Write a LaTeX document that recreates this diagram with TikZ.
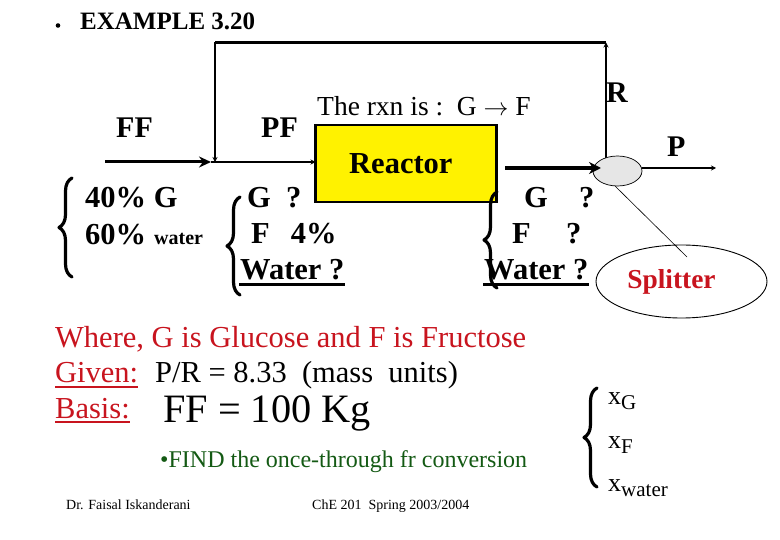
\documentclass[tikz,border=0pt]{standalone}
\usepackage{fontspec}
\setmainfont{Liberation Serif}
\usetikzlibrary{arrows.meta,decorations.pathreplacing,shapes.geometric}
\definecolor{redtxt}{RGB}{200,20,30}
\definecolor{greentxt}{RGB}{20,90,20}
\definecolor{splitgray}{RGB}{230,230,230}
\newcommand{\subtxt}[1]{\raisebox{-5.5pt}{\fontsize{21}{21}\selectfont #1}}
\tikzset{
  x=1pt,y=-1pt,
  lbl/.style={inner sep=0pt,anchor=base west,text=black,font=\bfseries\fontsize{#1}{#1}\selectfont},
  red lbl/.style={inner sep=0pt,anchor=base west,text=redtxt,font=\fontsize{30.5}{30.5}\selectfont},
  plain lbl/.style={inner sep=0pt,anchor=base west,text=black,font=\fontsize{#1}{#1}\selectfont},
  curly/.style={draw=black,line width=3.2pt,line cap=round,line join=round,decorate,decoration={brace,amplitude=13pt}},
  feed/.style={line width=3pt,-{Stealth[length=12pt,width=11pt]}},
  thinflow/.style={line width=1.4pt,-{Stealth[length=5pt,width=5pt]}},
  rule/.style={line width=2.6pt},
  red rule/.style={draw=redtxt,line width=2pt},
}
\begin{document}
\begin{tikzpicture}
\useasboundingbox (0,0) rectangle (780,540);
% title
\fill (58,25.5) circle (2.3);
\node[lbl=25] (title) at (80,29.5) {EXAMPLE 3.20};
% reactor
\node[draw=black,line width=2.4pt,fill=yellow,outer sep=0pt,minimum width=181pt,minimum height=77pt,inner sep=0pt,anchor=north west] (reactor) at (315.5,125) {};
\node[lbl=30.5] (reactorlabel) at (349,174) {Reactor};
\node[plain lbl=27.5] (rxn) at (317,116) {The rxn is :\ \ G $\rightarrow$ F};
% coordinates
\coordinate (ffstart) at (105,162);
\coordinate (junction) at (211,162);
\coordinate (tl) at (215,42.5);
\coordinate (tr) at (606,42.5);
\coordinate (tee) at (215,162);
\coordinate (rout) at (505,168);
\coordinate (rin) at (601,168);
\coordinate (pstart) at (642,168);
\coordinate (pend) at (716,168);
\coordinate (mixtop) at (606,158);
\coordinate (leadend) at (687,257);
\coordinate (leadstart) at (615,186);
% splitter
\draw[line width=2.2pt,-{Stealth[length=5pt,width=5pt]}] (mixtop) -- (tr);
\node[draw=black,line width=.7pt,fill=splitgray,minimum width=49pt,minimum height=30pt,inner sep=0pt,ellipse] (mix) at (617.5,171) {};
\node[draw=black,line width=.9pt,minimum width=171pt,minimum height=73pt,inner sep=0pt,ellipse] (splitter) at (681.5,281.5) {};
\node[inner sep=0pt,anchor=base,text=redtxt,font=\bfseries\fontsize{27.4}{27.4}\selectfont] (splitlabel) at (671.5,289) {Splitter};
% flows
\draw[feed] (ffstart) -- (junction);
\draw[thinflow] (junction) -- (reactor.west |- junction);
\draw[line width=3pt] (tr) -- (tl);
\draw[thinflow] (tl) -- (tee);
\draw[line width=4pt,-{Stealth[length=12pt,width=12pt]}] (rout) -- (rin);
\draw[line width=1.2pt,-{Stealth[length=5pt,width=5pt]}] (pstart) -- (pend);
\draw[line width=.6pt] (leadstart) -- (leadend);
% stream labels
\node[lbl=30] (ff) at (116,138) {FF};
\node[lbl=30] (pf) at (261,138) {PF};
\node[lbl=30] (r) at (606,103) {R};
\node[lbl=30] (p) at (667,157) {P};
% feed composition
\node[lbl=30.5] (a1) at (85,208) {40\% G};
\node[lbl=30.5] (a2) at (85,245) {60\%};
\node[lbl=20] (a3) at (154,245) {water};
% PF composition
\node[lbl=30.5] (b1) at (247,208) {G\ \ ?};
\node[lbl=30.5] (b2) at (251,244) {F\hspace{21pt}4\%};
\node[lbl=30.5] (b3) at (240,280) {Water ?};
\draw[rule] (239,284.5) -- (345,284.5);
% product composition
\node[lbl=30.5] (c1) at (524,208) {G};
\node[lbl=30.5] (c1q) at (579,208) {?};
\node[lbl=30.5] (c2) at (512,244) {F};
\node[lbl=30.5] (c2q) at (566,244) {?};
\node[lbl=30.5] (c3) at (484,280) {Water ?};
\draw[rule] (483,284.5) -- (589,284.5);
% braces
\draw[curly] (72,277) -- (72,178);
\draw[curly] (240,295) -- (240,197);
\draw[curly] (497,288) -- (497,192);
\draw[curly] (597,487) -- (597,388);
% lower text
\node[red lbl] (where) at (55,348) {Where, G is Glucose and F is Fructose};
\node[red lbl] (given) at (55,383) {Given:};
\draw[red rule] (55,387) -- (138,387);
\node[plain lbl=30.5] (pr) at (155,383) {P/R = 8.33\ \ (mass\ \ units)};
\node[red lbl] (basis) at (55,418) {Basis:};
\draw[red rule] (55,421.5) -- (130,421.5);
\node[plain lbl=40.3] (ffval) at (163,422) {FF = 100 Kg};
\node[inner sep=0pt,anchor=base west,text=greentxt,font=\fontsize{24}{24}\selectfont] (find) at (160,467) {•FIND the once-through fr conversion};
\node[plain lbl=14] (fac) at (66,509) {Dr. Faisal Iskanderani};
\node[plain lbl=14] (che) at (312,509) {ChE 201\ \ Spring 2003/2004};
% mass fractions
\node[plain lbl=26] (xg) at (608,404) {x\subtxt{G}};
\node[plain lbl=26] (xf) at (608,448) {x\subtxt{F}};
\node[plain lbl=26] (xw) at (608,491) {x\subtxt{water}};
\end{tikzpicture}
\end{document}
